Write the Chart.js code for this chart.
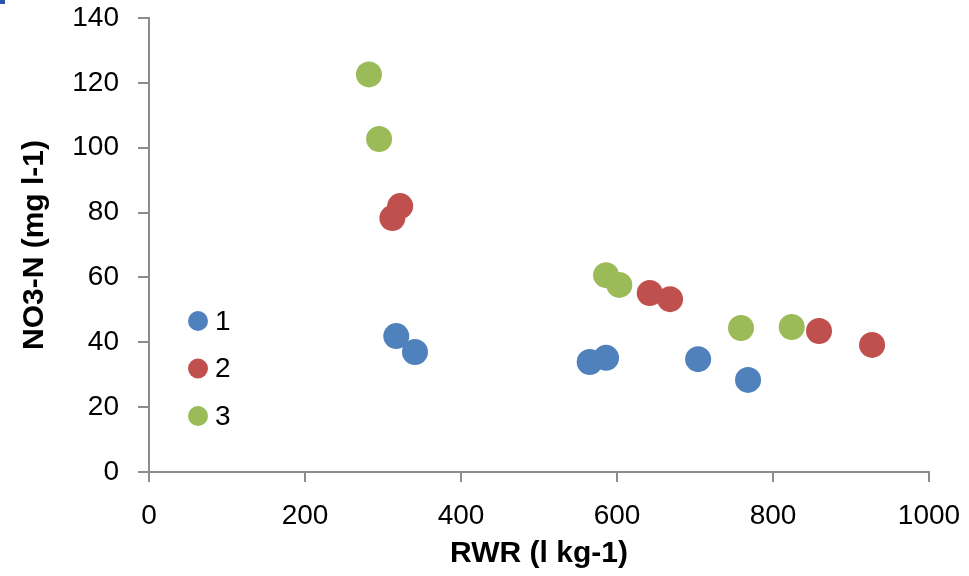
<!DOCTYPE html>
<html>
<head>
<meta charset="utf-8">
<script src="https://cdn.jsdelivr.net/npm/chart.js@4"></script>
<style>
  html, body { margin: 0; padding: 0; background: #fff; }
  #wrap { position: relative; width: 969px; height: 576px; }
  #corner { position: absolute; left: 0; top: 0; width: 5px; height: 4px; background: #2a56a8; }
</style>
</head>
<body>
<div id="wrap">
  <canvas id="scatter" width="969" height="576"></canvas>
  <div id="corner"></div>
</div>
<script>
// values
var seriesNames = ["1", "2", "3"];
var seriesColors = ["#4F81BD", "#C0504D", "#9BBB59"];
var rwr1 = [317, 341, 565, 586, 704, 768];
var no3n1 = [41.9, 37.0, 33.9, 35.2, 34.8, 28.4];
var rwr2 = [312, 322, 642, 668, 859, 927];
var no3n2 = [78.3, 82.0, 55.2, 53.3, 43.5, 39.2];
var rwr3 = [282, 295, 586, 603, 759, 824];
var no3n3 = [122.6, 102.7, 60.7, 57.7, 44.4, 44.7];
var xTicks = [0, 200, 400, 600, 800, 1000];
var yTicks = [0, 20, 40, 60, 80, 100, 120, 140];

function pts(xs, ys) {
  var out = [];
  for (var i = 0; i < xs.length; ++i) out.push({x: xs[i], y: ys[i]});
  return out;
}

var tickFont = {family: "'Liberation Sans', Arial, sans-serif", size: 28};
var titleFont = {family: "'Liberation Sans', Arial, sans-serif", size: 30, weight: 'bold'};
var axisGray = "#8c8c8c";

// legend sits inside the plot, drawn by hand
var insideLegend = {
  id: 'insideLegend',
  afterDraw: function(chart) {
    var ctx = chart.ctx;
    var area = chart.chartArea;
    var x = area.left + 49;
    var y0 = area.top + 303;
    ctx.save();
    ctx.font = "28px 'Liberation Sans', Arial, sans-serif";
    ctx.textBaseline = 'middle';
    for (var i = 0; i < seriesNames.length; ++i) {
      var y = y0 + i * 47.5;
      ctx.beginPath();
      ctx.arc(x, y, 10, 0, Math.PI * 2);
      ctx.fillStyle = seriesColors[i];
      ctx.fill();
      ctx.fillStyle = "#000";
      ctx.fillText(seriesNames[i], x + 17, y + 1);
    }
    ctx.restore();
  }
};

new Chart(document.getElementById('scatter').getContext('2d'), {
  type: 'scatter',
  data: {
    datasets: [
      {label: seriesNames[0], data: pts(rwr1, no3n1), backgroundColor: seriesColors[0], order: 3},
      {label: seriesNames[1], data: pts(rwr2, no3n2), backgroundColor: seriesColors[1], order: 2},
      {label: seriesNames[2], data: pts(rwr3, no3n3), backgroundColor: seriesColors[2], order: 1}
    ]
  },
  options: {
    responsive: false,
    animation: false,
    layout: {padding: {left: 0, right: 40, top: 18, bottom: 0}},
    elements: {point: {radius: 13, hoverRadius: 13, borderWidth: 0}},
    plugins: {legend: {display: false}, tooltip: {enabled: false}},
    scales: {
      x: {
        type: 'linear',
        min: 0, max: 1000,
        afterBuildTicks: function(axis) { axis.ticks = xTicks.map(function(v) { return {value: v}; }); },
        afterFit: function(axis) {
          axis.height = 104;
          axis.paddingLeft = 0;
          axis.paddingRight = 0;
        },
        border: {color: axisGray, width: 2},
        grid: {drawOnChartArea: false, color: axisGray, lineWidth: 2, tickLength: 10},
        ticks: {color: "#000", font: tickFont, padding: 17, maxRotation: 0,
                callback: function(v) { return String(v); }},
        title: {display: true, text: 'RWR (l kg-1)', color: "#000", font: titleFont, padding: {top: 2, bottom: 4}}
      },
      y: {
        type: 'linear',
        min: 0, max: 140,
        afterBuildTicks: function(axis) { axis.ticks = yTicks.map(function(v) { return {value: v}; }); },
        afterFit: function(axis) {
          axis.width = 149;
          axis.paddingTop = 0;
          axis.paddingBottom = 0;
        },
        border: {color: axisGray, width: 2},
        grid: {drawOnChartArea: false, color: axisGray, lineWidth: 2, tickLength: 11},
        ticks: {color: "#000", font: tickFont, padding: 19},
        title: {display: true, text: 'NO3-N (mg l-1)', color: "#000", font: titleFont, padding: {top: 17, bottom: 0}}
      }
    }
  },
  plugins: [insideLegend]
});
</script>
</body>
</html>
